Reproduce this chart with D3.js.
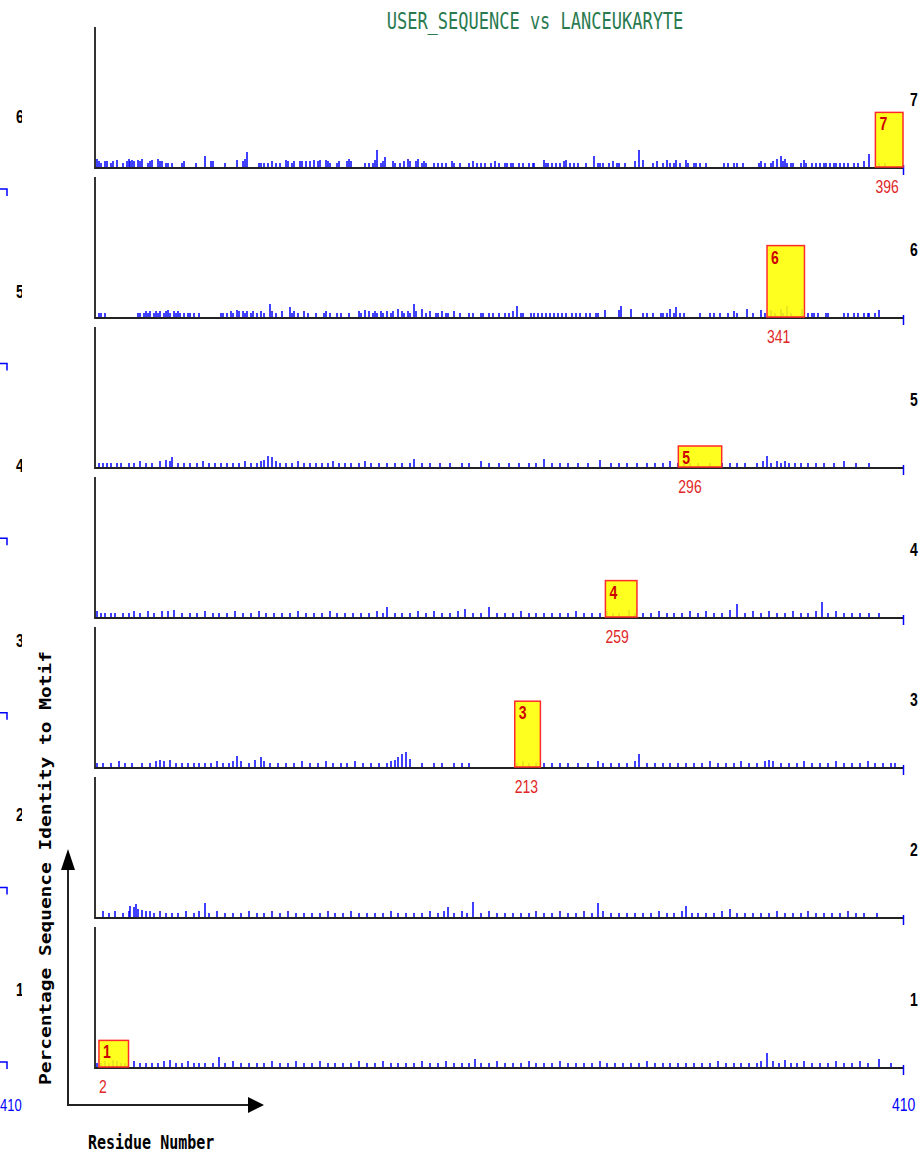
<!DOCTYPE html>
<html>
<head>
<meta charset="utf-8">
<script src="https://cdn.jsdelivr.net/npm/d3@7"></script>
<style>
  body { margin: 0; background: #fff; }
  svg { display: block; }
</style>
</head>
<body>
<svg id="chart" width="924" height="1152"></svg>
<script>
// residue axis
var residueMax = 410;
var panels = [1, 2, 3, 4, 5, 6, 7];

// motif hits: number, start residue, length, % identity
var motifNum = [1, 3, 4, 5, 6, 7];
var motifStart = [2, 213, 259, 296, 341, 396];
var motifLen = [15, 13, 16, 22, 19, 14];
var motifPct = [19, 47, 26, 15, 51, 39];

// clipped neighbour column on the left edge
var leftLabels = ["1", "2", "3", "4", "5", "6"];

// per residue identity spikes [residue, %]
var spikes7 = [[1,6],[2,4],[3,3],[5,4],[6,4],[8,3],[9,4],[11,5],[14,3],[16,4],[17,6],[18,4],[19,5],[20,4],[22,5],[23,4],[24,6],[27,3],[28,4],[29,5],[32,6],[33,4],[34,4],[36,3],[37,3],[39,3],[44,3],[45,4],[51,3],[56,8],[59,4],[60,4],[66,3],[72,5],[75,4],[76,6],[77,11],[83,3],[84,3],[86,3],[88,3],[90,4],[92,3],[94,3],[97,5],[98,4],[100,3],[101,4],[104,4],[105,4],[107,4],[109,4],[111,5],[113,4],[114,5],[117,5],[118,4],[119,3],[123,3],[124,4],[128,4],[129,6],[130,4],[137,3],[139,3],[141,3],[142,5],[143,12],[145,3],[146,4],[147,7],[151,4],[152,3],[155,3],[157,4],[159,6],[160,4],[163,4],[164,6],[166,3],[167,4],[168,3],[172,3],[174,3],[176,3],[178,3],[181,4],[182,3],[185,3],[190,3],[192,4],[194,3],[196,3],[198,3],[201,3],[203,4],[205,3],[208,3],[209,3],[211,3],[212,3],[215,3],[217,3],[220,3],[222,3],[223,3],[228,5],[229,3],[230,3],[232,3],[234,3],[236,3],[238,4],[239,5],[241,3],[243,3],[245,3],[249,3],[253,8],[255,3],[256,3],[258,3],[261,3],[263,4],[265,3],[266,3],[269,3],[274,4],[276,12],[278,5],[283,3],[285,4],[288,3],[290,5],[292,3],[294,3],[295,5],[297,3],[300,5],[301,3],[304,3],[305,3],[307,3],[310,3],[319,3],[321,3],[324,3],[326,3],[329,3],[337,3],[338,4],[340,3],[343,3],[344,4],[346,6],[348,8],[349,4],[350,6],[351,3],[353,3],[354,3],[358,3],[360,5],[361,3],[364,3],[366,3],[368,3],[370,3],[371,3],[373,3],[375,3],[376,3],[378,3],[380,3],[382,3],[385,3],[387,3],[390,4],[393,9],[398,3],[401,3]];
var spikes6 = [[2,3],[3,3],[5,3],[22,3],[23,3],[25,3],[26,4],[27,3],[28,4],[30,3],[31,4],[32,3],[33,4],[35,3],[36,4],[37,5],[38,3],[40,4],[41,3],[42,4],[43,3],[45,3],[47,3],[48,3],[50,3],[53,3],[64,3],[65,3],[67,3],[69,4],[70,3],[72,5],[73,4],[75,4],[76,3],[77,4],[79,3],[80,4],[82,3],[84,4],[86,3],[89,9],[90,4],[92,3],[95,4],[99,7],[100,3],[101,4],[103,3],[106,4],[108,3],[112,3],[116,3],[117,4],[119,3],[123,3],[125,3],[129,3],[134,4],[135,3],[137,5],[139,4],[141,3],[142,4],[143,3],[145,4],[146,3],[148,4],[150,3],[151,4],[154,6],[156,4],[157,3],[159,4],[160,3],[162,9],[163,4],[166,6],[168,3],[170,4],[173,3],[174,3],[176,4],[178,3],[179,3],[182,4],[185,3],[190,3],[192,3],[196,3],[197,3],[200,3],[202,3],[205,3],[208,3],[210,3],[212,4],[214,8],[216,3],[217,3],[221,3],[223,3],[225,3],[227,3],[229,3],[231,3],[233,3],[235,3],[237,3],[239,3],[242,3],[244,3],[246,3],[249,3],[251,3],[254,3],[255,3],[259,5],[266,5],[267,8],[272,6],[278,3],[280,3],[283,3],[287,3],[288,3],[290,3],[292,6],[294,3],[295,7],[297,3],[299,3],[307,3],[312,3],[314,3],[317,3],[321,3],[324,4],[326,3],[331,6],[334,3],[338,5],[340,3],[343,5],[345,3],[348,6],[349,3],[351,8],[353,3],[359,6],[362,3],[364,3],[365,3],[367,3],[371,3],[372,3],[380,3],[382,3],[385,3],[387,3],[390,3],[392,3],[393,3],[396,3],[398,5]];
var spikes5 = [[2,3],[4,3],[6,3],[8,3],[11,3],[13,3],[17,3],[20,3],[23,4],[26,3],[29,3],[33,4],[36,5],[38,4],[39,7],[42,3],[45,3],[48,3],[52,3],[55,4],[58,3],[61,3],[64,3],[67,3],[70,3],[73,3],[76,4],[79,3],[82,3],[84,4],[86,5],[88,8],[90,7],[92,4],[94,3],[97,3],[100,3],[103,4],[106,3],[109,3],[112,3],[115,3],[118,3],[121,4],[124,3],[127,3],[130,3],[134,3],[137,4],[140,3],[144,3],[148,3],[152,3],[156,3],[160,3],[162,6],[166,3],[170,3],[175,3],[180,3],[186,3],[190,3],[196,4],[200,3],[205,3],[210,3],[215,3],[220,3],[224,3],[228,6],[232,3],[236,3],[240,3],[245,3],[250,3],[256,5],[262,3],[266,3],[270,3],[275,3],[280,3],[284,3],[288,3],[292,4],[296,3],[299,4],[302,3],[306,3],[312,3],[318,3],[322,3],[326,3],[330,3],[336,3],[339,4],[341,8],[343,3],[346,4],[348,3],[350,4],[352,3],[355,3],[358,3],[362,3],[366,3],[370,3],[375,3],[380,4],[386,3],[393,3]];
var spikes4 = [[1,4],[3,3],[5,3],[8,3],[10,3],[14,3],[17,3],[20,4],[23,3],[27,4],[30,3],[34,4],[37,4],[40,5],[44,3],[48,3],[52,3],[56,4],[60,3],[63,3],[67,3],[71,4],[75,3],[79,3],[83,4],[87,3],[91,3],[95,3],[99,3],[103,4],[107,3],[111,3],[115,3],[119,4],[123,3],[127,3],[131,3],[135,3],[139,3],[143,4],[146,3],[148,7],[152,3],[156,3],[160,3],[164,4],[168,3],[172,4],[176,3],[180,3],[184,4],[188,6],[192,3],[196,3],[200,7],[204,3],[208,3],[212,3],[216,4],[220,3],[224,3],[228,3],[232,3],[236,3],[240,3],[244,4],[248,3],[252,3],[256,3],[260,4],[263,3],[266,3],[271,5],[274,3],[278,3],[282,3],[286,4],[290,3],[294,3],[298,3],[302,4],[306,3],[310,4],[314,3],[318,3],[322,5],[326,9],[330,3],[334,4],[338,3],[342,4],[346,3],[350,3],[354,4],[358,3],[362,3],[366,4],[369,11],[372,3],[376,4],[380,3],[384,3],[388,3],[393,3],[398,3]];
var spikes3 = [[1,3],[4,3],[8,3],[12,4],[15,3],[19,3],[24,3],[28,3],[31,4],[33,5],[35,4],[38,5],[41,3],[44,3],[47,3],[50,3],[53,3],[56,3],[59,3],[62,4],[65,3],[68,3],[70,4],[72,8],[74,4],[78,3],[81,5],[84,7],[86,4],[89,3],[93,3],[97,3],[101,3],[105,4],[109,3],[113,3],[117,4],[121,3],[125,3],[128,3],[132,4],[136,3],[140,3],[144,3],[148,3],[150,4],[152,5],[154,7],[156,9],[158,11],[160,6],[166,3],[172,3],[176,3],[182,3],[186,3],[190,3],[214,3],[217,4],[220,3],[224,3],[228,3],[232,3],[236,3],[240,3],[245,3],[250,3],[255,4],[258,3],[262,3],[266,3],[270,3],[274,4],[276,9],[280,3],[284,3],[288,3],[292,3],[296,3],[300,3],[304,3],[308,3],[312,4],[316,3],[320,3],[324,3],[328,4],[332,3],[336,3],[340,4],[342,5],[344,4],[348,3],[352,3],[356,3],[360,4],[364,3],[368,3],[372,3],[376,4],[380,3],[384,3],[388,3],[392,4],[396,3],[400,3],[404,3],[406,3]];
var spikes2 = [[4,4],[7,3],[10,4],[14,3],[17,4],[18,8],[20,7],[21,9],[22,6],[24,5],[26,4],[28,4],[30,3],[33,4],[36,3],[39,3],[42,3],[46,4],[50,3],[53,4],[56,10],[58,3],[62,4],[66,3],[70,3],[74,3],[78,4],[82,3],[86,3],[90,4],[94,3],[98,4],[102,3],[106,3],[110,3],[114,3],[118,4],[122,3],[126,3],[130,4],[134,3],[138,3],[142,3],[146,3],[150,4],[154,3],[158,3],[162,3],[166,3],[170,4],[174,3],[177,4],[179,7],[182,3],[186,4],[189,3],[192,11],[196,3],[200,4],[204,3],[208,3],[212,3],[216,3],[220,3],[224,4],[228,3],[232,3],[236,4],[240,3],[244,3],[248,4],[252,3],[255,10],[258,4],[262,3],[266,3],[270,3],[274,3],[278,3],[282,3],[286,4],[290,3],[294,3],[298,4],[300,8],[303,3],[306,3],[310,3],[314,3],[318,4],[322,6],[326,3],[330,3],[334,3],[338,3],[342,3],[346,4],[350,3],[354,3],[358,3],[362,4],[366,3],[370,3],[374,3],[378,3],[382,4],[386,3],[390,3],[397,3]];
var spikes1 = [[1,3],[3,3],[5,4],[7,3],[9,5],[11,4],[13,3],[15,3],[20,4],[23,3],[26,3],[29,3],[32,3],[35,4],[38,5],[41,3],[44,3],[47,4],[50,3],[53,3],[56,3],[60,3],[63,7],[66,3],[70,4],[74,3],[78,3],[82,3],[86,3],[90,4],[94,3],[98,3],[102,4],[106,3],[110,3],[114,4],[118,3],[122,3],[126,3],[130,3],[134,4],[138,3],[142,3],[146,4],[150,3],[154,3],[158,3],[162,3],[166,4],[170,3],[174,3],[178,4],[182,3],[186,3],[190,3],[193,6],[196,3],[200,3],[204,4],[208,3],[212,3],[216,3],[220,4],[224,3],[228,3],[232,3],[236,4],[240,3],[244,3],[248,3],[252,3],[256,4],[260,3],[264,3],[268,3],[272,3],[276,3],[280,4],[284,3],[288,3],[292,3],[296,3],[300,3],[304,3],[308,3],[312,3],[316,4],[320,3],[324,3],[328,3],[332,3],[336,3],[338,4],[341,10],[344,4],[347,3],[350,5],[353,3],[356,3],[360,4],[364,3],[368,3],[372,3],[376,4],[380,3],[384,3],[388,4],[392,3],[398,6],[404,3]];
var spikes = {1: spikes1, 2: spikes2, 3: spikes3, 4: spikes4, 5: spikes5, 6: spikes6, 7: spikes7};

var svg = d3.select("#chart");
var mono = "'DejaVu Sans Mono', monospace",
    sans = "'Liberation Sans', Arial, sans-serif";

var x = d3.scaleLinear().domain([0, residueMax]).range([95, 903]);
var base = d3.scaleLinear().domain([1, 7]).range([1067, 167]);   // baseline of each panel
var panelH = 140;

// text helper: the picture is stretched vertically, so stretch glyphs too
function label(g, tx, ty, str, opts) {
  var t = g.append("text")
      .attr("transform", "translate(" + tx + "," + ty + ") scale(1,1.3)")
      .attr("font-family", opts.family || sans)
      .attr("font-size", opts.size || 14)
      .attr("font-weight", opts.bold ? "bold" : "normal")
      .attr("fill", opts.fill || "#000")
      .attr("text-anchor", opts.anchor || "start")
      .text(str);
  return t;
}

// title
label(svg, 535, 29, "USER_SEQUENCE vs LANCEUKARYTE", {family: mono, size: 17, fill: "#2a7a50", anchor: "middle"});

// panels
panels.forEach(function(p) {
  var b = base(p);
  var y = d3.scaleLinear().domain([0, 100]).range([b, b - panelH]);
  var g = svg.append("g").attr("class", "panel");

  g.selectAll(".spike")
      .data(spikes[p])
      .enter().append("line")
      .attr("class", "spike")
      .attr("x1", function(d) { return Math.round(x(d[0])); })
      .attr("x2", function(d) { return Math.round(x(d[0])); })
      .attr("y1", y(0))
      .attr("y2", function(d) { return Math.round(y(d[1])); })
      .attr("stroke", "#0000ff")
      .attr("stroke-width", 1.5);

  // left axis
  g.append("line")
      .attr("x1", x(0)).attr("x2", x(0))
      .attr("y1", y(100)).attr("y2", y(0) + 2)
      .attr("stroke", "#333").attr("stroke-width", 2);
  // baseline, drawn just under the zero line
  g.append("line")
      .attr("x1", x(0)).attr("x2", x(residueMax))
      .attr("y1", y(0) + 1).attr("y2", y(0) + 1)
      .attr("stroke", "#222").attr("stroke-width", 2);
  // end tick
  g.append("line")
      .attr("x1", x(residueMax) + 0.5).attr("x2", x(residueMax) + 0.5)
      .attr("y1", y(0) - 2).attr("y2", y(0) + 8)
      .attr("stroke", "#0000ff").attr("stroke-width", 1.5);

  // panel number on the right
  label(g, 910, b - 61, String(p), {bold: true, size: 14});
});

// motif boxes
motifNum.forEach(function(m, i) {
  var b = base(m);
  var y = d3.scaleLinear().domain([0, 100]).range([b, b - panelH]);
  var x0 = x(motifStart[i]), x1 = x(motifStart[i] + motifLen[i]);
  svg.append("rect")
      .attr("x", x0).attr("y", y(motifPct[i]))
      .attr("width", x1 - x0).attr("height", y(0) - y(motifPct[i]))
      .attr("fill", "#ffff00").attr("fill-opacity", 0.88)
      .attr("stroke", "#ff2a2a").attr("stroke-width", 1.5);
  label(svg, x0 + 4, y(motifPct[i]) + 18, String(m), {bold: true, size: 14, fill: "#cc0000"});
  label(svg, x0, b + 26, String(motifStart[i]), {size: 14, fill: "#e02828"});
});

// clipped column on the left edge
svg.append("clipPath").attr("id", "leftclip")
  .append("rect").attr("x", 0).attr("y", 0).attr("width", 22).attr("height", 1152);
var lg = svg.append("g").attr("clip-path", "url(#leftclip)");
var lbase = d3.scaleLinear().domain([1, 6]).range([1062, 189]);
leftLabels.forEach(function(s, i) {
  var yy = lbase(i + 1);
  label(lg, 16, yy - 66, s, {bold: true, size: 14});
  lg.append("path")
      .attr("d", "M0," + yy + "H7V" + (yy + 7))
      .attr("fill", "none").attr("stroke", "#0000ff").attr("stroke-width", 1.5);
});

// residue range labels
label(svg, 0, 1111, String(residueMax), {size: 13, fill: "#0000ff"});
label(svg, 892, 1111, String(residueMax), {size: 14, fill: "#0000ff"});

// arrows
svg.append("line").attr("x1", 68).attr("x2", 68).attr("y1", 1106).attr("y2", 866)
    .attr("stroke", "#222").attr("stroke-width", 2);
svg.append("path").attr("d", "M68,849L61,870L75,870Z").attr("fill", "#000");
svg.append("line").attr("x1", 67).attr("x2", 250).attr("y1", 1105).attr("y2", 1105)
    .attr("stroke", "#222").attr("stroke-width", 2);
svg.append("path").attr("d", "M264,1105L248,1097L248,1113Z").attr("fill", "#000");

// axis titles
label(svg, 88, 1149, "Residue Number", {family: mono, size: 15, bold: true});
svg.append("text")
    .attr("transform", "translate(51,1085) rotate(-90) scale(1.3,1)")
    .attr("font-family", mono).attr("font-size", 15).attr("font-weight", "bold")
    .attr("fill", "#000")
    .text("Percentage Sequence Identity to Motif");
</script>
</body>
</html>
